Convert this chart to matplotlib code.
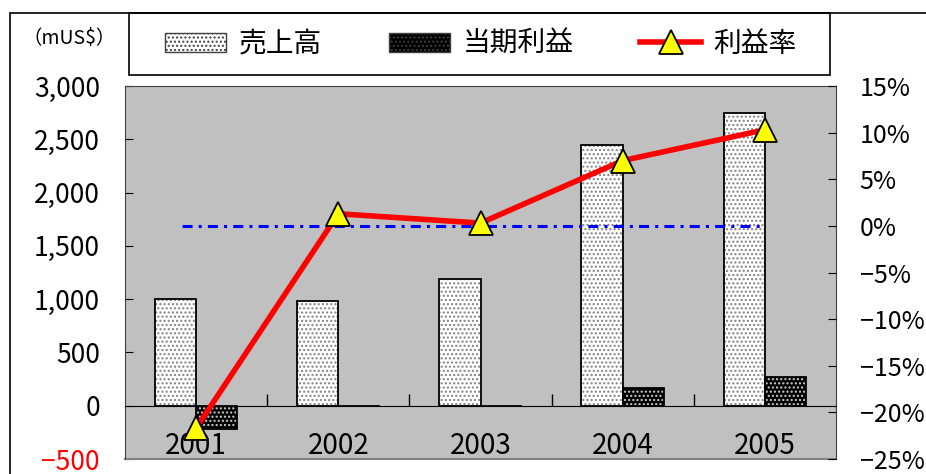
import matplotlib.pyplot as plt
from matplotlib.patches import Rectangle
from matplotlib.lines import Line2D

plt.rcParams['font.family'] = ['Noto Sans CJK JP', 'DejaVu Sans']

years = ["2001", "2002", "2003", "2004", "2005"]
sales = [1000, 980, 1190, 2450, 2750]          # 売上高 (mUS$)
profit = [-220, 0, 0, 170, 270]                # 当期利益 (mUS$)
margin = [-21.7, 1.3, 0.3, 7.0, 10.3]          # 利益率 (%)
left_ticks = [-500, 0, 500, 1000, 1500, 2000, 2500, 3000]
right_ticks = [-25, -20, -15, -10, -5, 0, 5, 10, 15]

W, H = 926, 474
fig = plt.figure(figsize=(W / 100, H / 100), dpi=100)

# outer frame of the chart and the legend box
fig.patches.append(Rectangle((10 / W, -0.1), 1.2, 1.1 - 13 / H, transform=fig.transFigure,
                             fill=False, edgecolor="black", linewidth=1.2))
fig.patches.append(Rectangle((129 / W, 1 - 75 / H), (830 - 129) / W, 62 / H,
                             transform=fig.transFigure, fill=False, edgecolor="black",
                             linewidth=1.2))

ax = fig.add_axes([125 / W, 1 - 459 / H, (836 - 125) / W, (459 - 86) / H])
ax.set_facecolor("#c0c0c0")
x = list(range(len(years)))
bw = 0.29


def hatched_bars(xs, vals, face, dots):
    ax.bar(xs, vals, bw, color=face, hatch="....", edgecolor=dots, linewidth=0, zorder=2)
    ax.bar(xs, vals, bw, fill=False, edgecolor="black", linewidth=1.3, zorder=3)


hatched_bars([i - bw / 2 for i in x], sales, "white", "#808080")
hatched_bars([i + bw / 2 for i in x], profit, "black", "#d0d0d0")

ax.set_xlim(-0.5, 4.5)
ax.set_ylim(-500, 3000)
ax.set_yticks(left_ticks)
ax.set_yticklabels([f"{v:,}" if v >= 0 else f"\u2212{-v:,}" for v in left_ticks], fontsize=19)
ax.get_yticklabels()[0].set_color("red")
ax.tick_params(axis="y", direction="in", length=6, pad=18)

ax.spines["bottom"].set_position(("data", 0))
ax.set_xticks([0.5, 1.5, 2.5, 3.5])
ax.set_xticklabels([])
ax.tick_params(axis="x", direction="in", length=9, width=1)
for s in ["left", "top", "right"]:
    ax.spines[s].set_color("#404040")
for i, yr in enumerate(years):
    ax.text(i, -380, yr, ha="center", va="center", fontsize=20, zorder=6)
# lower edge of plot area
ax.axhline(-500, color="#808080", linewidth=1.5, clip_on=False)

ax2 = ax.twinx()
ax2.set_ylim(-25, 15)
ax2.set_yticks(right_ticks)
ax2.set_yticklabels([f"{v}%" if v >= 0 else f"\u2212{-v}%" for v in right_ticks], fontsize=18)
ax2.tick_params(axis="y", direction="in", length=6, pad=17)
for s in ax2.spines.values():
    s.set_visible(False)
ax2.hlines(0, -0.1, 4.0, colors="#0000ff", linestyles=(0, (3.3, 2, 1, 2)), linewidth=2.2, zorder=4)
ax2.plot(x, margin, color="red", linewidth=4, marker="^", markersize=17,
         markerfacecolor="yellow", markeredgecolor="black", markeredgewidth=1.3,
         zorder=5, clip_on=False)

fig.text(69 / W, 1 - 39 / H, "（mUS$）", ha="center", va="center", fontsize=14)

handles = [
    Rectangle((0, 0), 1, 1, facecolor="white", hatch="....", edgecolor="#404040", linewidth=1),
    Rectangle((0, 0), 1, 1, facecolor="black", hatch="....", edgecolor="#404040", linewidth=1),
    Line2D([], [], color="red", linewidth=4, marker="^", markersize=17,
           markerfacecolor="yellow", markeredgecolor="black", markeredgewidth=1.3),
]
leg = fig.legend(handles, ["売上高", "当期利益", "利益率"], ncol=3, loc="center",
                 bbox_to_anchor=(481 / W, 1 - 44 / H), fontsize=20, frameon=False,
                 handlelength=2.2, handleheight=0.65, handletextpad=0.45,
                 columnspacing=2.4, borderaxespad=0, borderpad=0)

fig.savefig("out.png", dpi=100)
